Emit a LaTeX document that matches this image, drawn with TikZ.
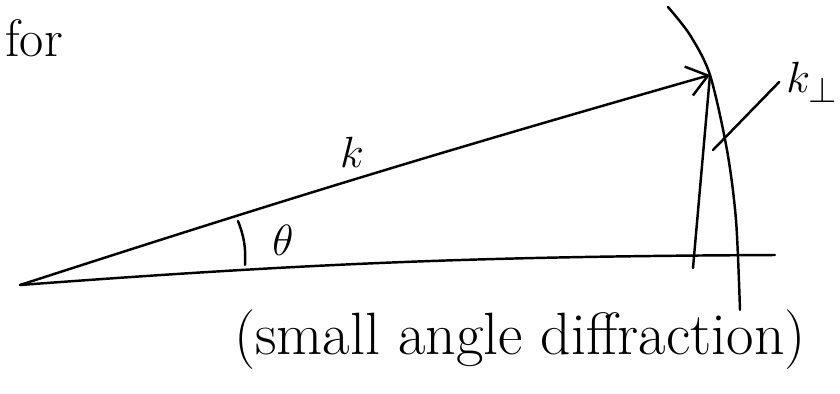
\documentclass[tikz,border=0pt]{standalone}
\usetikzlibrary{arrows.meta}
\begin{document}
\begin{tikzpicture}[x=0.02cm,y=-0.02cm,line width=1.4pt,line cap=round,
  hand/.style={font=\fontsize{30}{34}\selectfont}]
\useasboundingbox (0,0) rectangle (840,393);
\coordinate (O) at (20,285);
\coordinate (tip) at (710,75);
\coordinate (base) at (775,255);
\coordinate (foot) at (693,268);
\coordinate (hook) at (713,150);
\draw (O) to[bend left=2] (base);
\draw[-{Straight Barb[length=4mm,width=6mm]}] (O) to[bend left=1] (tip);
\draw (tip) -- (foot);
\draw plot[smooth] coordinates {(668,7) (690,35) (710,75) (727,150) (736,220) (740,310)};
\draw (238,221) to[bend left=12] (245,265);
\node[hand] (theta) at (283,240) {$\theta$};
\node[hand] (k) at (352,152) {$k$};
\node[hand] (kperp) at (812,82) {$k_\perp$};
\draw (kperp.west) -- (hook);
\node[hand,font=\fontsize{34}{38}\selectfont] (caption) at (520,340) {(small angle diffraction)};
\node[hand] (for) at (34,38) {for};
\end{tikzpicture}
\end{document}
